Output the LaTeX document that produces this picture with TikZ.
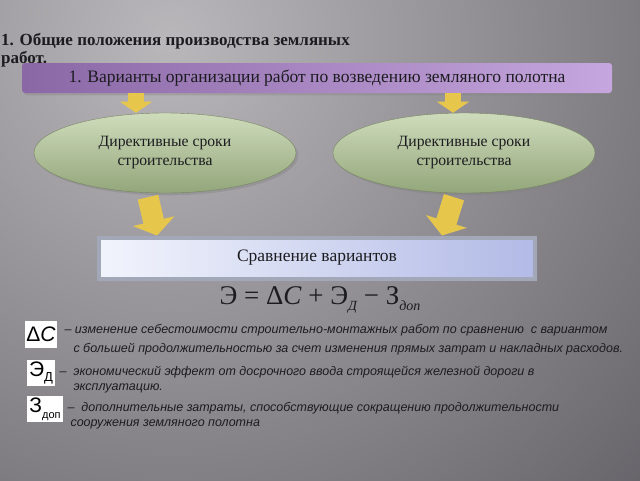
\documentclass[tikz,border=0pt]{standalone}
\usepackage{fontspec}
\setmainfont{Liberation Serif}
\newfontfamily\legendfont{Liberation Sans}
\usetikzlibrary{shapes.geometric}
\usetikzlibrary{positioning}
\usetikzlibrary{arrows.meta}
\usetikzlibrary{shadows}
\definecolor{bgdark}{HTML}{5E5C62}
\definecolor{bglight}{HTML}{BAB7BB}
\definecolor{bannerleft}{HTML}{8A68A6}
\definecolor{bannerright}{HTML}{C6A6DE}
\definecolor{ovaltop}{HTML}{CFDCBC}
\definecolor{ovalbottom}{HTML}{93A67A}
\definecolor{arrowyellow}{HTML}{E6C74C}
\definecolor{boxleft}{HTML}{F2F4FC}
\definecolor{boxright}{HTML}{B2BAE6}
\definecolor{bevelgray}{HTML}{A3A8B8}
\definecolor{inktext}{HTML}{1C1C20}
\newcommand{\lowsub}[1]{\raisebox{-0.45ex}{\fontsize{14}{14}\selectfont\itshape #1}}
\tikzset{bannerstyle/.style={rectangle,rounded corners=3pt,left color=bannerleft,right color=bannerright,
    drop shadow={opacity=0.35},font=\fontsize{17.5}{19}\selectfont,text=inktext}}
\tikzset{ovalstyle/.style={ellipse,draw=ovalbottom!80!black,top color=ovaltop,bottom color=ovalbottom,
    drop shadow={opacity=0.4},align=center,font=\fontsize{15.7}{22}\selectfont,text=inktext,
    minimum width=262pt,minimum height=80pt}}
\tikzset{comparestyle/.style={rectangle,draw=bevelgray,line width=4pt,left color=boxleft,right color=boxright,
    drop shadow={opacity=0.4},font=\fontsize{17.5}{19}\selectfont,text=inktext,
    minimum width=436pt,minimum height=41pt}}
\tikzset{yellowarrow/.style={draw=arrowyellow,line width=#1,-{Triangle[width=2*#1,length=0.7*#1]}}}
\tikzset{symbolbox/.style={rectangle,fill=white,inner sep=1pt,font=\legendfont\fontsize{21}{21}\selectfont,text=black}}
\tikzset{legendtext/.style={anchor=north west,align=left,text=inktext,font=\legendfont\itshape\fontsize{12.5}{15}\selectfont}}

\begin{document}
\begin{tikzpicture}[x=1pt,y=-1pt]
        % background
        \useasboundingbox (0,0) rectangle (640,480);
        \fill[bgdark] (0,0) rectangle (640,480);
        \begin{scope}
            \clip (0,0) rectangle (640,480);
            \shade[inner color=bglight,outer color=bgdark] (170,40) circle (720pt);
        \end{scope}

        \node[anchor=north west,align=left,inner sep=0pt,text=inktext,
              font=\bfseries\fontsize{17}{18}\selectfont] (title) at (1,33)
        {1. Общие положения производства земляных\\работ.};

        \node[bannerstyle,minimum width=590pt,minimum height=30pt] (variants) at (317,78)
        {1. Варианты организации работ по возведению земляного полотна};

        \node[ovalstyle] (leftterm) at (165,153) {\raisebox{-3pt}{Директивные сроки}\\строительства};
        \node[ovalstyle] (rightterm) at (464,153) {\raisebox{-3pt}{Директивные сроки}\\строительства};

        \node[comparestyle] (compare) at (317,258) {\raisebox{-2pt}{Сравнение вариантов}};

        \node[font=\fontsize{27}{27}\selectfont,text=inktext] (formula) at (320,300)
        {Э = Δ\textit{C} + Э\lowsub{Д} − З\lowsub{доп}};

        % arrows
        \draw[yellowarrow=16pt] ([xshift=-29pt]variants.south -| leftterm.north) -- ([xshift=-29pt]leftterm.north);
        \draw[yellowarrow=16pt] ([xshift=-11pt]variants.south -| rightterm.north) -- ([xshift=-11pt]rightterm.north);
        \draw[yellowarrow=21pt] ([xshift=-17pt,yshift=-4pt]leftterm.south) -- ([xshift=-160pt]compare.north);
        \draw[yellowarrow=21pt] ([xshift=-10pt,yshift=-4pt]rightterm.south) -- ([xshift=125pt]compare.north);

        % legend
        \node[symbolbox,minimum width=28pt,minimum height=27pt] (dc) at (41,334) {Δ\textit{C}};
        \node[symbolbox,minimum width=28pt,minimum height=26pt] (ed) at (41,373) {Э\raisebox{-0.5ex}{\fontsize{13}{13}\selectfont Д}};
        \node[symbolbox,minimum width=36pt,minimum height=26pt] (zd) at (45,409) {З\raisebox{-0.5ex}{\fontsize{11}{11}\selectfont доп}};

        \node[legendtext,font=\legendfont\itshape\fontsize{12.5}{19}\selectfont] (dctext) at (61,321)
        {– изменение себестоимости строительно-монтажных работ по сравнению\ \ с вариантом\\
         \hspace*{9pt}с большей продолжительностью за счет изменения прямых затрат и накладных расходов.};
        \node[legendtext] (edtext) at (56,363)
        {– \ экономический эффект от досрочного ввода строящейся железной дороги в\\
         \hspace*{14pt}эксплуатацию.};
        \node[legendtext] (zdtext) at (64,399)
        {– \ дополнительные затраты, способствующие сокращению продолжительности\\
         \hspace*{3pt}сооружения земляного полотна};
\end{tikzpicture}
\end{document}
